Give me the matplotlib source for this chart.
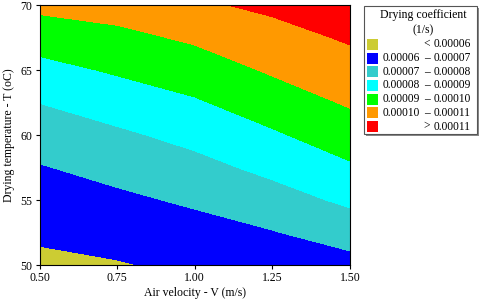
import numpy as np
from matplotlib import pyplot as plt
from matplotlib.patches import Rectangle

plt.rcParams['font.family'] = ['Liberation Serif', 'DejaVu Serif']

# air velocity (m/s) and drying temperature (oC) grid
velocity = [0.50, 0.75, 1.00, 1.25, 1.50]
temperature = [50.0, 52.5, 55.0, 57.5, 60.0, 62.5, 65.0, 67.5, 70.0]

# drying coefficient (x 1e-4 1/s), one row per temperature
coef_50_0 = [0.578, 0.593, 0.620, 0.635, 0.667]
coef_52_5 = [0.616, 0.637, 0.664, 0.695, 0.743]
coef_55_0 = [0.655, 0.681, 0.714, 0.760, 0.818]
coef_57_5 = [0.694, 0.730, 0.770, 0.824, 0.887]
coef_60_0 = [0.746, 0.783, 0.828, 0.887, 0.951]
coef_62_5 = [0.801, 0.846, 0.889, 0.950, 1.010]
coef_65_0 = [0.869, 0.911, 0.951, 1.011, 1.061]
coef_67_5 = [0.942, 0.975, 1.014, 1.065, 1.111]
coef_70_0 = [1.023, 1.040, 1.085, 1.119, 1.161]

levels = [0.0, 0.6, 0.7, 0.8, 0.9, 1.0, 1.1, 2.0]
band_colors = ['#cccc33', '#0000ff', '#33cccc', '#00ffff', '#00ff00', '#ff9900', '#ff0000']
low_labels = ['', '0.00006', '0.00007', '0.00008', '0.00009', '0.00010', '']
sep_labels = ['<', '–', '–', '–', '–', '–', '>']
high_labels = ['0.00006', '0.00007', '0.00008', '0.00009', '0.00010', '0.00011', '0.00011']

Z = np.array([coef_50_0, coef_52_5, coef_55_0, coef_57_5, coef_60_0,
              coef_62_5, coef_65_0, coef_67_5, coef_70_0])

fig = plt.figure(figsize=(4.8, 2.99), dpi=100)
ax = fig.add_axes([39.5 / 480, 34 / 299, 310.5 / 480, 259.7 / 299])

ax.contourf(velocity, temperature, Z, levels=levels, colors=band_colors)

ax.set_xlim(0.5, 1.5)
ax.set_ylim(50, 70)
ax.set_xticks([0.50, 0.75, 1.00, 1.25, 1.50])
ax.set_xticklabels(['0.50', '0.75', '1.00', '1.25', '1.50'])
ax.set_yticks([50, 55, 60, 65, 70])
ax.tick_params(labelsize=8.5, length=3, width=0.8, pad=2)
ax.set_xlabel('Air velocity - V (m/s)', fontsize=8.5, labelpad=2)
ax.set_ylabel('Drying temperature - T (oC)', fontsize=8.5, labelpad=4)
for s in ax.spines.values():
    s.set_linewidth(0.8)

# legend drawn by hand in pixel coordinates
lax = fig.add_axes([0, 0, 1, 1])
lax.set_xlim(0, 480)
lax.set_ylim(299, 0)
lax.axis('off')

lax.add_patch(Rectangle((366, 8), 113, 128, facecolor='#888888', edgecolor='none'))
lax.add_patch(Rectangle((364, 6), 113, 128, facecolor='white', edgecolor='#555555', linewidth=0.8))
lax.text(423, 15, 'Drying coefficient', fontsize=8.5, ha='center', va='center')
lax.text(423, 30, '(1/s)', fontsize=8.5, ha='center', va='center')

for i in range(len(band_colors)):
    y = 44.3 + i * 13.7
    lax.add_patch(Rectangle((367, y - 5.5), 11, 11, facecolor=band_colors[i], edgecolor='none'))
    lax.text(383, y, low_labels[i], fontsize=8.3, ha='left', va='center')
    lax.text(427, y, sep_labels[i], fontsize=8.3, ha='center', va='center')
    lax.text(434, y, high_labels[i], fontsize=8.3, ha='left', va='center')

fig.savefig('out.png', dpi=100)
